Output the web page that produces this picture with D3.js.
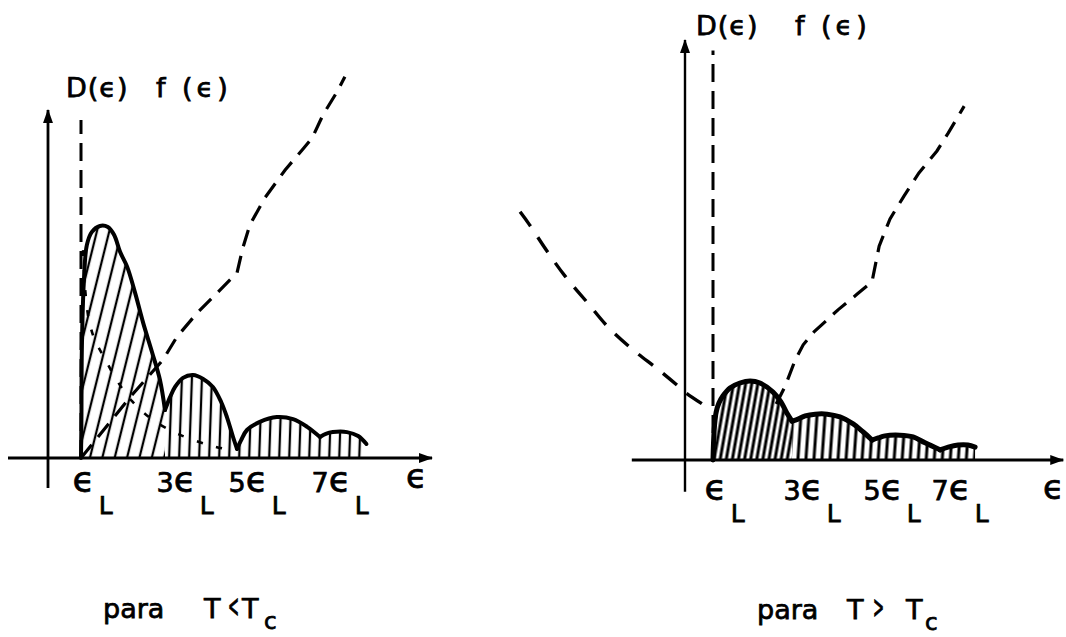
<!DOCTYPE html>
<html>
<head>
<meta charset="utf-8">
<script src="https://cdn.jsdelivr.net/npm/d3@7"></script>
<style>
  html, body { margin: 0; padding: 0; background: #fff; }
  svg { display: block; }
  text { font-family: "DejaVu Sans", sans-serif; fill: #000; stroke: #000; stroke-width: 0.75px; }
</style>
</head>
<body>
<svg id="chart" width="1066" height="637"></svg>
<script>
// Energies in units of ε_L, ordinates in arbitrary units.
const levelTicks = [1, 3, 5, 7];
const levelCoeffs = ["", "3", "5", "7"];
const humpBounds = [1, 3, 5, 7, Infinity];

// T < Tc : product D(ε)·f(ε)
const lowProdEps = [1.00, 1.01, 1.02, 1.07, 1.14, 1.26, 1.45, 1.64, 1.79, 1.93, 2.10, 2.29, 2.48, 2.69, 2.88, 3.00,
                    3.14, 3.28, 3.50, 3.78, 4.06, 4.33, 4.56, 4.72, 4.89, 5.00,
                    5.10, 5.24, 5.55, 5.96, 6.35, 6.69, 7.00,
                    7.14, 7.31, 7.65, 7.92, 8.12];
const lowProdVal = [0, 10.9, 30.9, 50.9, 60.9, 64.6, 66.3, 66.0, 63.7, 58.9, 54.6, 47.1, 38.6, 30.3, 22.3, 13.7,
                    17.4, 20.3, 22.9, 23.7, 22.6, 20.3, 16.0, 11.7, 6.0, 2.6,
                    5.1, 8.0, 10.3, 11.7, 11.1, 8.9, 6.0,
                    6.9, 7.4, 7.4, 6.3, 4.0];
// T < Tc : density of states D(ε)
const lowDEps = [1.00, 1.52, 2.17, 2.95, 3.33, 3.89, 4.44, 5.00, 5.14, 5.31, 5.67, 6.16, 6.57, 6.81, 7.07, 7.41, 7.60];
const lowDVal = [0, 7.7, 17.4, 28.0, 34.6, 41.4, 47.1, 52.9, 60.0, 66.6, 74.3, 82.3, 88.0, 91.4, 98.0, 104.6, 108.9];
// T < Tc : occupation f(ε)
const lowFEps = [1.05, 1.10, 1.19, 1.33, 1.52, 1.88, 2.21, 2.71, 3.42, 4.33, 4.94];
const lowFVal = [59.4, 48.0, 39.4, 33.7, 29.4, 21.7, 16.3, 10.9, 6.6, 3.4, 2.0];

// T > Tc : product D(ε)·f(ε)
const highProdEps = [1.00, 1.03, 1.08, 1.15, 1.25, 1.43, 1.68, 1.94, 2.19, 2.52, 2.72, 2.87, 3.00,
                     3.15, 3.33, 3.58, 3.88, 4.20, 4.53, 4.78, 5.00,
                     5.18, 5.38, 5.82, 6.21, 6.56, 7.00,
                     7.24, 7.53, 7.82, 8.03];
const highProdVal = [0, 8.6, 13.7, 16.3, 18.3, 20.6, 22.0, 22.6, 22.0, 19.4, 16.6, 13.4, 11.1,
                     11.7, 12.6, 13.1, 13.1, 12.3, 10.3, 8.0, 5.7,
                     6.3, 6.9, 7.1, 6.6, 4.9, 2.9,
                     3.7, 4.3, 4.3, 3.7];
// T > Tc : density of states D(ε)
const highDEps = [2.60, 2.82, 3.08, 3.28, 3.55, 4.15, 4.63, 5.00, 5.21, 5.53, 5.94, 6.38, 6.91, 7.24, 7.71];
const highDVal = [16.0, 20.9, 28.6, 32.9, 36.6, 42.9, 47.4, 50.9, 61.1, 68.9, 75.4, 82.0, 88.3, 93.4, 101.1];
// T > Tc : occupation f(ε)
const highFEps = [-5.89, -5.57, -4.93, -4.29, -3.50, -2.75, -1.89, -0.93, -0.21, 0, 0.79];
const highFVal = [70.9, 67.4, 59.7, 52.6, 45.1, 38.0, 31.7, 25.7, 20.9, 19.4, 15.1];

const zip = (xs, ys) => xs.map((x, i) => ({ e: x, v: ys[i] }));

const svg = d3.select("#chart");
const defs = svg.append("defs");

function hatch(id, spacing, width, angle) {
  const p = defs.append("pattern")
    .attr("id", id)
    .attr("patternUnits", "userSpaceOnUse")
    .attr("width", spacing)
    .attr("height", 40)
    .attr("patternTransform", `rotate(${angle})`);
  p.append("line")
    .attr("x1", spacing / 2).attr("x2", spacing / 2)
    .attr("y1", -2).attr("y2", 42)
    .attr("stroke", "#000").attr("stroke-width", width);
}
hatch("hatchLowA", 12, 2.3, 14);
hatch("hatchLowB", 10, 2.3, 2);
hatch("hatchHighA", 6, 3, 10);
hatch("hatchHighB", 8, 3, 4);

defs.append("marker")
  .attr("id", "arrow")
  .attr("markerUnits", "userSpaceOnUse")
  .attr("markerWidth", 14).attr("markerHeight", 10)
  .attr("refX", 13).attr("refY", 5)
  .attr("orient", "auto")
  .append("path")
  .attr("d", "M0,0 L14,5 L0,10 Z")
  .attr("fill", "#000");

function drawPanel(cfg) {
  const g = svg.append("g");
  const x = d3.scaleLinear().domain(cfg.xDomain).range(cfg.xRange);
  const y = d3.scaleLinear().domain([0, 100]).range([cfg.base, cfg.base - 350]);

  // hatched humps of D(ε)·f(ε)
  const prod = zip(cfg.prodEps, cfg.prodVal);
  const area = d3.area().x(d => x(d.e)).y0(y(0)).y1(d => y(d.v)).curve(d3.curveCatmullRom.alpha(0.5));
  const line = d3.line().x(d => x(d.e)).y(d => y(d.v)).curve(d3.curveCatmullRom.alpha(0.5));
  const humps = d3.range(humpBounds.length - 1).map(k =>
    prod.filter(d => d.e >= humpBounds[k] && d.e <= humpBounds[k + 1]));

  g.selectAll("path.fill").data(humps).join("path")
    .attr("class", "fill")
    .attr("d", area)
    .attr("fill", (d, k) => k === 0 ? `url(#${cfg.hatchA})` : `url(#${cfg.hatchB})`);

  g.selectAll("path.outline").data(humps).join("path")
    .attr("class", "outline")
    .attr("d", line)
    .attr("fill", "none")
    .attr("stroke", "#000")
    .attr("stroke-width", cfg.outlineWidth)
    .attr("stroke-linecap", "round")
    .attr("stroke-linejoin", "round");

  // dashed curves D(ε) and f(ε)
  g.append("path")
    .datum(zip(cfg.dEps, cfg.dVal))
    .attr("d", d3.line().x(d => x(d.e)).y(d => y(d.v)))
    .attr("fill", "none").attr("stroke", "#000")
    .attr("stroke-width", 3.2).attr("stroke-dasharray", "17,10");

  g.append("path")
    .datum(zip(cfg.fEps, cfg.fVal))
    .attr("d", d3.line().x(d => x(d.e)).y(d => y(d.v)).curve(d3.curveCatmullRom.alpha(0.5)))
    .attr("fill", "none").attr("stroke", "#000")
    .attr("stroke-width", cfg.fWidth).attr("stroke-dasharray", cfg.fDash);

  // asymptote at ε_L
  g.append("line")
    .attr("x1", x(1)).attr("x2", x(1))
    .attr("y1", y(0)).attr("y2", y(cfg.guideTop))
    .attr("stroke", "#000").attr("stroke-width", 3)
    .attr("stroke-dasharray", "18,9");

  // axes
  g.append("line")
    .attr("x1", x(cfg.xAxisFrom)).attr("x2", x(cfg.xAxisTo))
    .attr("y1", y(0)).attr("y2", y(0))
    .attr("stroke", "#000").attr("stroke-width", cfg.xAxisWidth)
    .attr("marker-end", "url(#arrow)");
  g.append("line")
    .attr("x1", x(0)).attr("x2", x(0))
    .attr("y1", y(cfg.yAxisFrom)).attr("y2", y(cfg.yAxisTo))
    .attr("stroke", "#000").attr("stroke-width", cfg.yAxisWidth)
    .attr("marker-end", "url(#arrow)");

  const ax = d3.axisBottom(x).tickValues(levelTicks).tickSize(0).tickFormat("");
  const gAx = g.append("g").attr("transform", `translate(0,${y(0)})`).call(ax);
  gAx.select(".domain").remove();
  gAx.selectAll(".tick text").remove();
  gAx.selectAll(".tick").each(function (d, i) {
    const t = d3.select(this).append("text")
      .attr("x", -9).attr("y", cfg.tickLabelY).attr("text-anchor", "start");
    if (levelCoeffs[i]) t.append("tspan").attr("font-size", 27).text(levelCoeffs[i]);
    t.append("tspan").attr("font-size", 36).text("ϵ");
    t.append("tspan").attr("font-size", 25).attr("dx", 4).attr("dy", 22).text("L");
  });

  // axis title ε
  g.append("text")
    .attr("x", cfg.epsLabel[0]).attr("y", cfg.epsLabel[1])
    .attr("font-size", 34).text("ϵ");

  // top labels
  g.append("text")
    .attr("x", cfg.dLabel[0]).attr("y", cfg.dLabel[1])
    .attr("font-size", 27).attr("letter-spacing", 1).text("D(ϵ)");
  g.append("text")
    .attr("x", cfg.fLabel[0]).attr("y", cfg.fLabel[1])
    .attr("font-size", 27).attr("letter-spacing", 4).text("f (ϵ)");

  // caption: para T ≶ T_c
  const cap = cfg.caption;
  g.append("text").attr("x", cap.x[0]).attr("y", cap.y).attr("font-size", 27).text("para");
  g.append("text").attr("x", cap.x[1]).attr("y", cap.y).attr("font-size", 27).text("T");
  g.append("text")
    .attr("transform", `translate(${cap.x[2]},${cap.y - 1}) scale(0.55,1.3)`)
    .attr("font-size", 24).text(cap.rel);
  g.append("text").attr("x", cap.x[3]).attr("y", cap.y).attr("font-size", 27).text("T");
  g.append("text").attr("x", cap.x[4]).attr("y", cap.y + 11).attr("font-size", 23).text("c");
}

drawPanel({
  xDomain: [-1.2, 0, 1, 3, 5, 7, 9.7],
  xRange: [8, 48, 81, 165, 237, 320, 432],
  base: 458,
  prodEps: lowProdEps, prodVal: lowProdVal,
  dEps: lowDEps, dVal: lowDVal,
  fEps: lowFEps, fVal: lowFVal,
  fWidth: 2.6, fDash: "6,14",
  hatchA: "hatchLowA", hatchB: "hatchLowB",
  outlineWidth: 4,
  guideTop: 96.6,
  xAxisFrom: -1.2, xAxisTo: 9.7, xAxisWidth: 3.2,
  yAxisFrom: -8.6, yAxisTo: 99.4, yAxisWidth: 2.8,
  tickLabelY: 34,
  epsLabel: [406, 488],
  dLabel: [66, 97],
  fLabel: [156, 97],
  caption: { y: 618, x: [103, 204, 228, 242, 264], rel: "<" }
});

drawPanel({
  xDomain: [-6, 0, 1, 3, 5, 7, 10.7],
  xRange: [517, 685, 713, 792, 872, 940, 1066],
  base: 460,
  prodEps: highProdEps, prodVal: highProdVal,
  dEps: highDEps, dVal: highDVal,
  fEps: highFEps, fVal: highFVal,
  fWidth: 3.4, fDash: "18,13",
  hatchA: "hatchHighA", hatchB: "hatchHighB",
  outlineWidth: 5,
  guideTop: 117,
  xAxisFrom: -1.9, xAxisTo: 10.62, xAxisWidth: 3,
  yAxisFrom: -9.1, yAxisTo: 120, yAxisWidth: 2.4,
  tickLabelY: 40,
  epsLabel: [1043, 499],
  dLabel: [696, 35],
  fLabel: [795, 35],
  caption: { y: 619, x: [757, 847, 873, 906, 925], rel: ">" }
});
</script>
</body>
</html>
